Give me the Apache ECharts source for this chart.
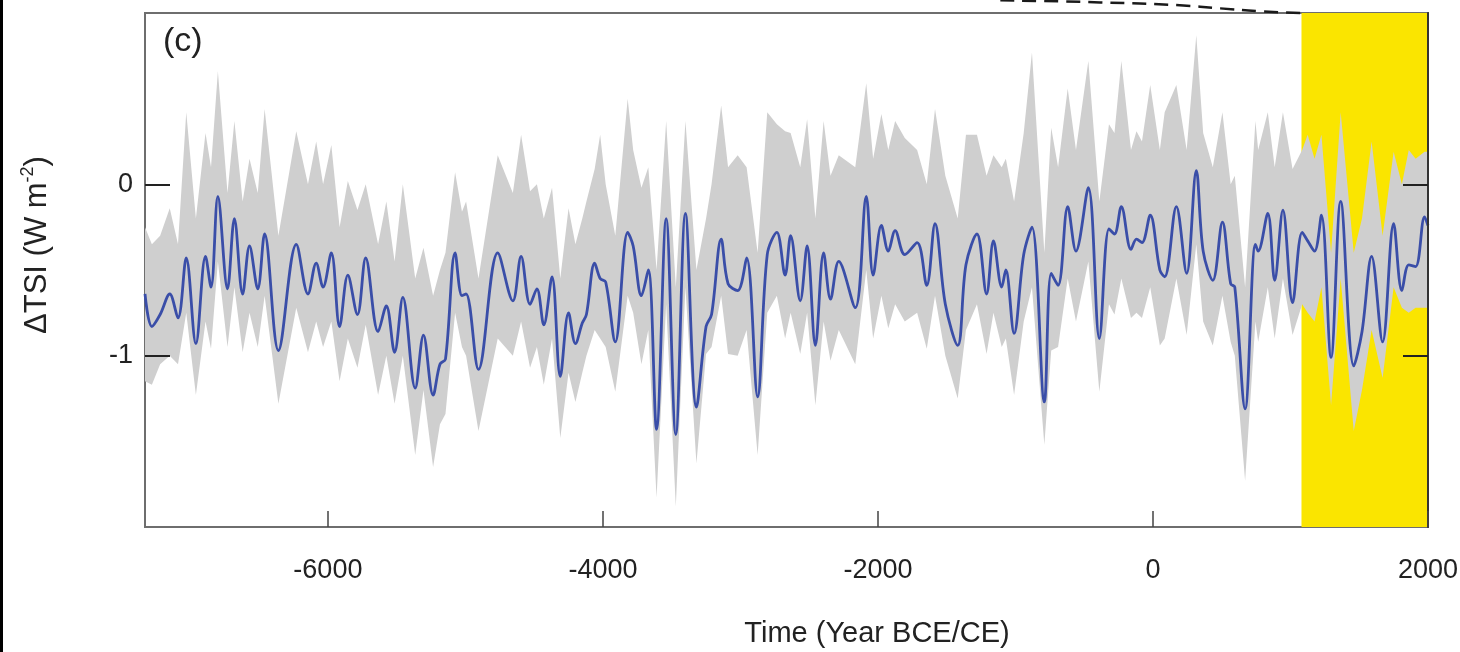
<!DOCTYPE html>
<html>
<head>
<meta charset="utf-8">
<script src="https://cdn.jsdelivr.net/npm/echarts@6/dist/echarts.min.js"></script>
<style>
html,body{margin:0;padding:0;background:#fff;}
#c{width:1460px;height:652px;}
</style>
</head>
<body>
<div id="c"></div>
<script>
// ---- data ----
const years = [-7330,-7280,-7220,-7150,-7090,-7030,-6960,-6890,-6850,-6800,
  -6730,-6680,-6620,-6570,-6510,-6460,-6360,-6230,-6145,-6085,
  -6035,-5975,-5915,-5855,-5785,-5725,-5635,-5575,-5515,-5455,
  -5365,-5305,-5235,-5185,-5145,-5075,-5025,-4995,-4905,-4765,
  -4655,-4595,-4530,-4480,-4430,-4370,-4310,-4250,-4200,-4150,
  -4120,-4060,-4020,-3980,-3910,-3820,-3780,-3720,-3670,-3610,
  -3540,-3470,-3400,-3320,-3250,-3210,-3140,-3090,-3020,-2955,
  -2875,-2805,-2735,-2675,-2635,-2565,-2515,-2455,-2395,-2345,
  -2285,-2165,-2085,-2035,-1975,-1925,-1875,-1805,-1715,-1645,
  -1585,-1510,-1420,-1360,-1280,-1210,-1160,-1100,-1070,-1010,
  -940,-880,-790,-740,-690,-620,-560,-470,-390,-320,
  -280,-230,-160,-120,-80,-20,50,85,170,245,
  315,365,435,505,565,595,670,745,765,835,
  885,945,1015,1085,1125,1175,1225,1295,1365,1460,
  1520,1590,1670,1750,1810,1860,1910,1975,2000];
const tsiMean = [-0.64,-0.83,-0.76,-0.64,-0.78,-0.43,-0.93,-0.42,-0.60,-0.07,
  -0.61,-0.20,-0.64,-0.36,-0.61,-0.29,-0.97,-0.35,-0.64,-0.46,
  -0.60,-0.40,-0.83,-0.53,-0.76,-0.43,-0.86,-0.71,-0.98,-0.66,
  -1.19,-0.88,-1.23,-1.05,-1.02,-0.40,-0.65,-0.64,-1.08,-0.40,
  -0.68,-0.42,-0.70,-0.61,-0.82,-0.54,-1.12,-0.75,-0.93,-0.81,
  -0.76,-0.46,-0.55,-0.57,-0.92,-0.28,-0.36,-0.65,-0.50,-1.43,
  -0.20,-1.46,-0.17,-1.30,-0.83,-0.76,-0.32,-0.58,-0.62,-0.43,
  -1.24,-0.41,-0.28,-0.53,-0.30,-0.68,-0.36,-0.94,-0.40,-0.67,
  -0.45,-0.72,-0.07,-0.53,-0.24,-0.39,-0.27,-0.41,-0.34,-0.59,
  -0.23,-0.70,-0.94,-0.47,-0.29,-0.64,-0.33,-0.60,-0.50,-0.87,
  -0.41,-0.25,-1.27,-0.52,-0.59,-0.13,-0.39,-0.02,-0.90,-0.26,
  -0.29,-0.13,-0.38,-0.32,-0.34,-0.18,-0.50,-0.54,-0.13,-0.52,
  0.08,-0.39,-0.56,-0.22,-0.58,-0.60,-1.31,-0.35,-0.39,-0.17,
  -0.56,-0.15,-0.69,-0.28,-0.33,-0.39,-0.18,-1.01,-0.10,-1.06,
  -0.86,-0.42,-0.92,-0.23,-0.62,-0.47,-0.48,-0.19,-0.24];
const tsiUpper = [-0.25,-0.35,-0.30,-0.14,-0.35,0.42,-0.20,0.30,0.10,0.66,
  -0.05,0.37,-0.10,0.15,-0.05,0.44,-0.30,0.31,0.00,0.25,
  0.00,0.23,-0.25,0.02,-0.15,0.00,-0.35,-0.10,-0.45,0.00,
  -0.55,-0.37,-0.65,-0.50,-0.40,0.07,-0.16,-0.10,-0.55,0.17,
  -0.05,0.29,-0.04,0.00,-0.20,-0.02,-0.55,-0.14,-0.35,-0.20,
  -0.10,0.09,0.29,0.00,-0.30,0.50,0.20,-0.02,0.10,-0.50,
  0.37,-0.60,0.37,-0.50,-0.20,0.00,0.46,0.10,0.17,0.10,
  -0.40,0.42,0.35,0.31,0.30,0.10,0.38,-0.20,0.37,0.05,
  0.17,0.10,0.59,0.15,0.41,0.20,0.37,0.27,0.20,0.00,
  0.44,0.05,-0.20,0.29,0.29,0.05,0.17,0.10,0.15,-0.10,
  0.30,0.77,-0.40,0.33,0.10,0.56,0.20,0.72,-0.10,0.35,
  0.30,0.72,0.20,0.31,0.25,0.58,0.20,0.42,0.58,0.20,
  0.87,0.30,0.10,0.42,0.00,0.05,-0.60,0.37,0.20,0.42,
  0.10,0.42,0.09,0.20,0.29,0.15,0.29,-0.40,0.42,-0.40,
  -0.20,0.25,-0.30,0.19,0.00,0.20,0.15,0.19,0.19];
const tsiLower = [-1.15,-1.17,-1.05,-1.00,-1.05,-0.75,-1.23,-0.80,-0.96,-0.45,
  -0.95,-0.60,-0.98,-0.75,-0.95,-0.65,-1.28,-0.72,-0.98,-0.80,
  -0.95,-0.80,-1.15,-0.90,-1.07,-0.82,-1.23,-1.00,-1.28,-1.00,
  -1.58,-1.20,-1.65,-1.40,-1.34,-0.75,-0.95,-1.00,-1.44,-0.90,
  -1.00,-0.80,-1.07,-0.95,-1.17,-0.90,-1.48,-1.10,-1.27,-1.10,
  -1.00,-0.85,-0.90,-0.95,-1.21,-0.65,-0.75,-1.05,-0.85,-1.83,
  -0.70,-1.88,-0.60,-1.63,-0.99,-0.95,-0.65,-0.99,-1.00,-0.85,
  -1.58,-0.75,-0.65,-0.90,-0.75,-0.99,-0.75,-1.29,-0.80,-1.03,
  -0.85,-1.05,-0.50,-0.90,-0.65,-0.84,-0.70,-0.80,-0.75,-0.96,
  -0.65,-1.00,-1.25,-0.85,-0.70,-0.99,-0.75,-0.95,-0.90,-1.23,
  -0.80,-0.60,-1.52,-0.97,-0.95,-0.55,-0.80,-0.45,-1.21,-0.70,
  -0.76,-0.55,-0.78,-0.75,-0.78,-0.60,-0.94,-0.90,-0.55,-0.88,
  -0.35,-0.80,-0.94,-0.65,-0.92,-1.00,-1.73,-0.80,-0.92,-0.60,
  -0.90,-0.55,-0.88,-0.70,-0.75,-0.80,-0.60,-1.29,-0.55,-1.44,
  -1.20,-0.85,-1.13,-0.60,-0.72,-0.75,-0.72,-0.72,-0.72];
const highlightSpan = [1080, 2000];
const dashYears = [-1110, -385, 195, 490, 780, 1070];
const dashValues = [1.074, 1.062, 1.045, 1.027, 1.010, 1.0];
const xTickValues = [-6000, -4000, -2000, 0, 2000];
const yTickValues = [0, -1];
const xRange = [-7330, 2000];
const yRange = [-2, 1];

// ---- chart ----
const FONT = '"Liberation Sans", Arial, Helvetica, sans-serif';
const chart = echarts.init(document.getElementById('c'), null, {renderer: 'canvas'});

const meanData = years.map((y, i) => [y, tsiMean[i]]);
const dashData = dashYears.map((y, i) => [y, dashValues[i]]);
const plain = v => String(v);

const option = {
  animation: false,
  backgroundColor: '#ffffff',
  textStyle: {fontFamily: FONT},
  grid: {
    left: 145, right: 32, top: 13, bottom: 125,
    show: true, borderColor: '#6e6e6e', borderWidth: 2,
    backgroundColor: 'rgba(0,0,0,0)',
    containLabel: false, outerBoundsMode: 'none'
  },
  xAxis: {
    type: 'value', min: xRange[0], max: xRange[1], z: 10,
    axisLine: {show: false, onZero: false},
    axisTick: {show: true, inside: true, length: 16, customValues: xTickValues,
      lineStyle: {color: '#444', width: 1.5}},
    axisLabel: {customValues: xTickValues, formatter: plain, fontSize: 27, color: '#222', margin: 30,
      fontFamily: FONT, showMinLabel: true, showMaxLabel: true},
    splitLine: {show: false},
    name: 'Time (Year BCE/CE)', nameLocation: 'middle', nameGap: 92,
    nameTextStyle: {fontSize: 29, color: '#222', fontFamily: FONT, padding: [0, 0, 0, 181]}
  },
  yAxis: [{
    type: 'value', min: yRange[0], max: yRange[1], position: 'left', z: 10,
    axisLine: {show: false, onZero: false},
    axisTick: {show: true, inside: true, length: 25, customValues: yTickValues,
      lineStyle: {color: '#222', width: 2}},
    axisLabel: {customValues: yTickValues, formatter: plain, fontSize: 27, color: '#222', margin: 12, fontFamily: FONT},
    splitLine: {show: false},
    name: '{a|\u0394TSI (W m}{s|-2}{a|)}', nameLocation: 'middle', nameGap: 90,
    nameTextStyle: {
      color: '#222', fontFamily: FONT, padding: [0, 0, 0, 50],
      rich: {
        a: {fontSize: 31, color: '#222', fontFamily: FONT, lineHeight: 36},
        s: {fontSize: 18, color: '#222', fontFamily: FONT, verticalAlign: 'top', lineHeight: 36}
      }
    }
  }, {
    type: 'value', min: yRange[0], max: yRange[1], position: 'right', z: 10,
    axisLine: {show: true, onZero: false, lineStyle: {color: '#333', width: 2}},
    axisTick: {show: true, inside: true, length: 25, customValues: yTickValues,
      lineStyle: {color: '#222', width: 2}},
    axisLabel: {show: false},
    splitLine: {show: false}
  }],
  series: [
    {
      name: 'highlight', type: 'line', data: [], z: 1,
      markArea: {
        silent: true,
        itemStyle: {color: '#FAE500', opacity: 1},
        data: [[{xAxis: highlightSpan[0], yAxis: yRange[1]}, {xAxis: highlightSpan[1], yAxis: yRange[0]}]]
      }
    },
    {
      name: 'range', type: 'custom', z: 2, silent: true,
      data: [[years[0], tsiMean[0]]],
      renderItem: function (params, api) {
        const pts = [];
        for (let i = 0; i < years.length; i++) pts.push(api.coord([years[i], tsiUpper[i]]));
        for (let i = years.length - 1; i >= 0; i--) pts.push(api.coord([years[i], tsiLower[i]]));
        return {type: 'polygon', shape: {points: pts}, style: {fill: '#cfcfcf'}};
      }
    },
    {
      name: 'mean', type: 'line', z: 3, data: meanData, showSymbol: false, symbol: 'none',
      smooth: 0.35,
      lineStyle: {color: '#3a4ea8', width: 2.8}
    },
    {
      name: 'upper panel', type: 'line', z: 4, data: dashData, showSymbol: false, symbol: 'none',
      clip: false, smooth: true,
      lineStyle: {color: '#1a1a1a', width: 2.5, type: [14, 8]}
    }
  ],
  graphic: [
    {type: 'rect', left: 0, top: 0, shape: {width: 3, height: 652}, style: {fill: '#000'}, z: 100},
    {type: 'text', left: 163, top: 25, style: {text: '(c)', fontSize: 34, fill: '#222', fontFamily: FONT}, z: 100}
  ]
};
chart.setOption(option);
</script>
</body>
</html>
